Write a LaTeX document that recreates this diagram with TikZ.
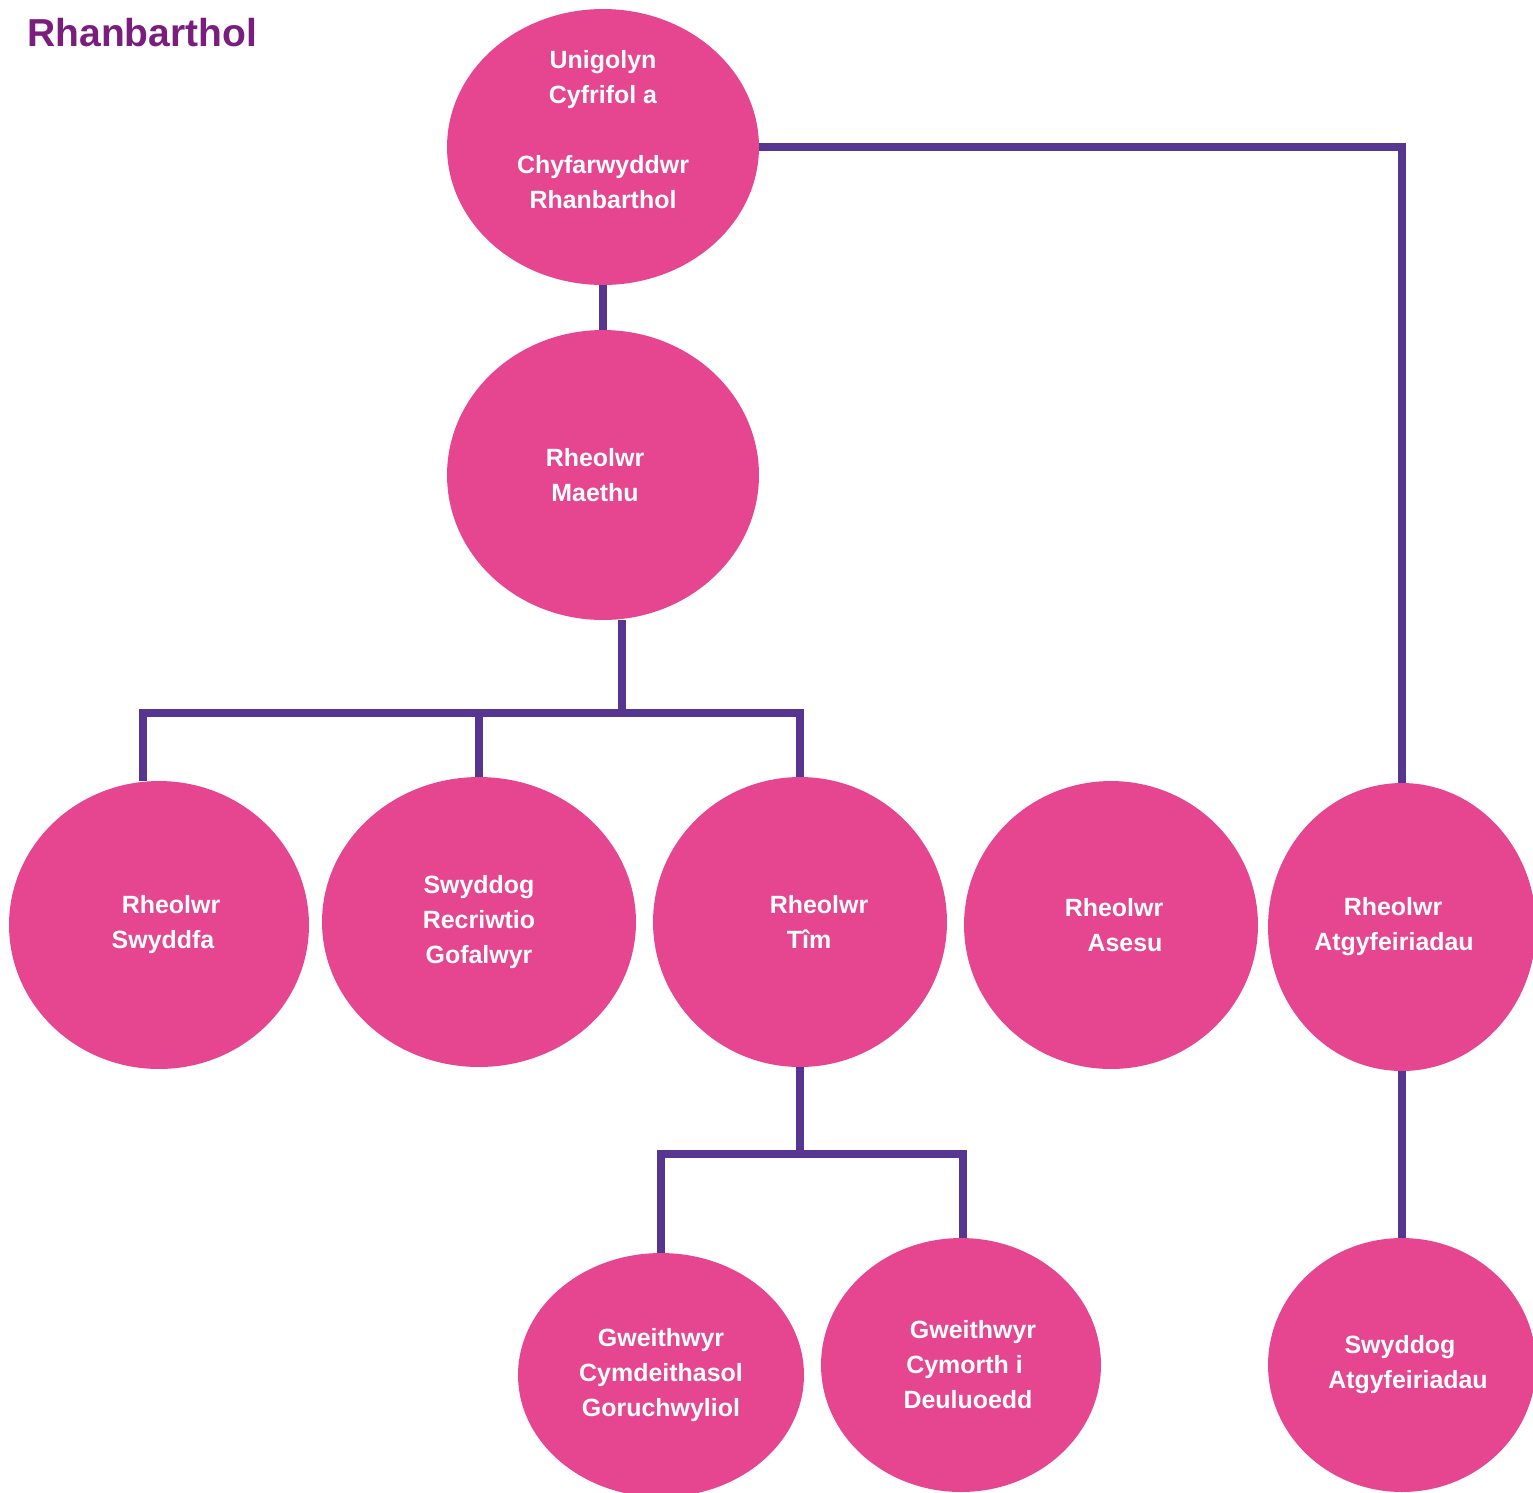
\documentclass[tikz,border=0pt]{standalone}
\usepackage{fontspec}
\setmainfont{Liberation Sans}
\usetikzlibrary{shapes.geometric}
\definecolor{rolepink}{RGB}{230,69,143}
\definecolor{linkpurple}{RGB}{87,54,146}
\definecolor{titlepurple}{RGB}{122,29,125}
% shift one line of a node sideways, in reference pixels
\newcommand{\nudge}[2]{\hspace*{#1\dimexpr0.02cm\relax}#2\hspace*{-#1\dimexpr0.02cm\relax}}
\begin{document}
\begin{tikzpicture}[x=0.02cm,y=-0.02cm,
  role/.style={ellipse, fill=rolepink, inner sep=0pt, text=white,
    font=\bfseries\fontsize{14.2}{19.9}\selectfont, align=center},
  link/.style={draw=linkpurple, line width=4.5pt}]
\useasboundingbox (0,0) rectangle (1533,1492);
\node[anchor=base west, inner sep=0pt, text=titlepurple,
  font=\bfseries\fontsize{22.2}{26}\selectfont] (title) at (27,46) {Rhanbarthol};
% top
\node[role, inner ysep=-0.4cm, minimum width=6.24cm, minimum height=5.52cm] (top) at (603,147)
  {Unigolyn\\Cyfrifol a\\[19.9pt]Chyfarwyddwr\\Rhanbarthol\\\mbox{}};
\node[role, minimum width=6.24cm, minimum height=5.8cm] (maethu) at (603,475)
  {\nudge{-8}{Rheolwr}\\\nudge{-8}{Maethu}};
% middle row
\node[role, minimum width=6cm, minimum height=5.76cm] (swyddfa) at (159,925)
  {\nudge{12}{Rheolwr}\\\nudge{4}{Swyddfa}};
\node[role, minimum width=6.28cm, minimum height=5.8cm] (recriwtio) at (479,922)
  {Swyddog\\Recriwtio\\Gofalwyr};
\node[role, minimum width=5.88cm, minimum height=5.8cm] (tim) at (800,922)
  {\nudge{19}{Rheolwr}\\\nudge{9}{Tîm}};
\node[role, minimum width=5.88cm, minimum height=5.76cm] (asesu) at (1111,925)
  {\nudge{3}{Rheolwr}\\\nudge{14}{Asesu}};
\node[role, minimum width=5.36cm, minimum height=5.76cm] (atgyf) at (1402,927)
  {\nudge{-9}{Rheolwr}\\\nudge{-8}{Atgyfeiriadau}};
% bottom row
\node[role, minimum width=5.72cm, minimum height=4.88cm] (goruch) at (661,1375)
  {Gweithwyr\\Cymdeithasol\\Goruchwyliol};
\node[role, minimum width=5.6cm, minimum height=5.08cm] (teulu) at (961,1365)
  {\nudge{12}{Gweithwyr}\\\nudge{7}{Cymorth i}\\\nudge{7}{Deuluoedd}};
\node[role, minimum width=5.36cm, minimum height=5.08cm] (swyddatgyf) at (1402,1365)
  {\nudge{-2}{Swyddog}\\\nudge{6}{Atgyfeiriadau}};
% links
\coordinate (fork1) at (622,713);
\coordinate (drop1) at (143,713);
\coordinate (drop2) at (479,713);
\coordinate (drop3) at (800,713);
\coordinate (fork2) at (800,1154);
\coordinate (drop4) at (661,1154);
\coordinate (drop5) at (963,1154);
\draw[link] (top.south) -- (maethu.north);
\draw[link] (top.east) -| (atgyf.north);
\draw[link] (maethu.south -| fork1) -- (fork1);
\draw[link] (drop1 |- swyddfa.north) -- (drop1) -- (drop3) -- (tim.north);
\draw[link] (drop2) -- (recriwtio.north);
\draw[link] (tim.south) -- (fork2);
\draw[link] (goruch.north) -- (drop4) -- (drop5) -- (drop5 |- teulu.north);
\draw[link] (atgyf.south) -- (swyddatgyf.north);
\end{tikzpicture}
\end{document}
